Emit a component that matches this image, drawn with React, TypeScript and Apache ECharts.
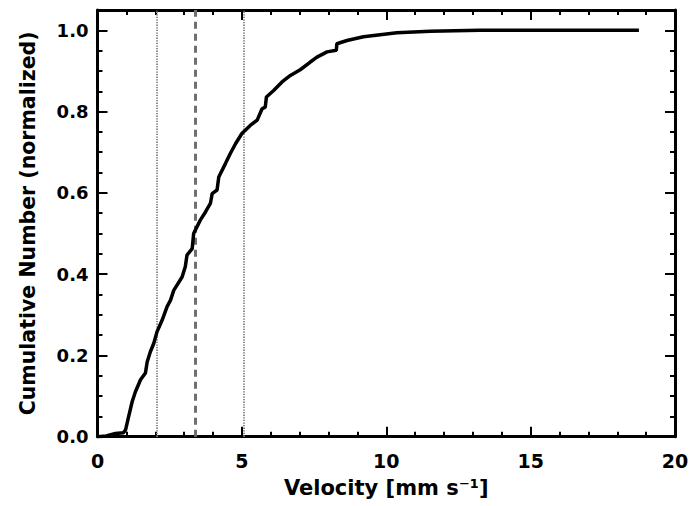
import React, { useEffect, useRef } from "react";
import * as echarts from "echarts";

const velocity = [0, 0.3, 0.62, 0.9, 0.97, 1.08, 1.2, 1.31, 1.49, 1.66, 1.72, 1.83, 1.95, 2.06, 2.24, 2.41, 2.53, 2.64, 2.93, 3.04, 3.1, 3.28, 3.33, 3.56, 3.74, 3.91, 3.97, 4.14, 4.2, 4.43, 4.6, 4.78, 5.0, 5.29, 5.53, 5.7, 5.81, 5.85, 6.1, 6.39, 6.68, 7.02, 7.37, 7.6, 7.95, 8.27, 8.29, 8.64, 9.21, 9.79, 10.37, 11.52, 13.25, 15.0, 18.75];
const cumulative = [0, 0.002, 0.008, 0.01, 0.016, 0.05, 0.086, 0.11, 0.14, 0.157, 0.184, 0.209, 0.23, 0.258, 0.287, 0.32, 0.336, 0.36, 0.393, 0.418, 0.447, 0.463, 0.5, 0.533, 0.553, 0.574, 0.598, 0.607, 0.639, 0.672, 0.697, 0.721, 0.746, 0.766, 0.779, 0.807, 0.811, 0.836, 0.852, 0.873, 0.889, 0.903, 0.922, 0.934, 0.947, 0.951, 0.967, 0.975, 0.984, 0.989, 0.994, 0.998, 1.0, 1.0, 1.0];
const medianLine = [3.39];
const quartileLines = [2.04, 5.08];
const xTicks = [0, 5, 10, 15, 20];
const yTicks = [0.0, 0.2, 0.4, 0.6, 0.8, 1.0];

const FONT = "DejaVu Sans";

export default function App() {
  const ref = useRef<HTMLDivElement>(null);
  useEffect(() => {
    if (!ref.current) return;
    const chart = echarts.init(ref.current, undefined, { renderer: "svg" });
    const xMin = xTicks[0];
    const xMax = xTicks[xTicks.length - 1];
    const yMin = yTicks[0];
    const yMax = 1.05;
    const majorTickStyle = { show: true, inside: true, length: 10, lineStyle: { color: "#000", width: 2 } };
    const minorTickStyle = { show: true, length: 5, lineStyle: { color: "#000", width: 2 } };
    const baseX = {
      type: "value" as const,
      min: xMin,
      max: xMax,
      interval: 5,
      splitLine: { show: false },
      axisLine: { show: true, onZero: false, lineStyle: { color: "#000", width: 3 } },
      axisTick: majorTickStyle,
      minorTick: { ...minorTickStyle, splitNumber: 5 },
    };
    const yLabelAxis = {
      type: "value" as const,
      min: yMin,
      max: yMax,
      interval: 0.2,
      splitLine: { show: false },
      axisLine: { show: true, onZero: false, lineStyle: { color: "#000", width: 3 } },
      axisTick: majorTickStyle,
    };
    const yMinorAxis = {
      type: "value" as const,
      min: yMin,
      max: yMax,
      interval: 0.05,
      splitLine: { show: false },
      axisLine: { show: false, onZero: false },
      axisLabel: { show: false },
      axisTick: { show: true, inside: true, length: 5, lineStyle: { color: "#000", width: 2 } },
    };
    chart.setOption({
      animation: false,
      backgroundColor: "#fff",
      grid: { left: 97.5, right: 24, top: 10, bottom: 69.3, containLabel: false },
      xAxis: [
        {
          ...baseX,
          position: "bottom",
          name: "Velocity [mm s⁻¹]",
          nameLocation: "middle",
          nameGap: 41,
          nameTextStyle: { fontFamily: FONT, fontSize: 21, fontWeight: "bold", color: "#000" },
          axisLabel: {
            show: true,
            margin: 15,
            fontFamily: FONT,
            fontSize: 19,
            fontWeight: "bold",
            color: "#000",
            formatter: (v: number) => (xTicks.includes(v) ? String(v) : ""),
          },
        },
        { ...baseX, position: "top", axisLabel: { show: false } },
      ],
      yAxis: [
        {
          ...yLabelAxis,
          position: "left",
          name: "Cumulative Number (normalized)",
          nameLocation: "middle",
          nameGap: 59,
          nameTextStyle: { fontFamily: FONT, fontSize: 20.5, fontWeight: "bold", color: "#000" },
          axisLabel: {
            show: true,
            margin: 9,
            showMaxLabel: false,
            fontFamily: FONT,
            fontSize: 18,
            fontWeight: "bold",
            color: "#000",
            formatter: (v: number) => (yTicks.some((t) => Math.abs(t - v) < 1e-9) ? v.toFixed(1) : ""),
          },
        },
        { ...yLabelAxis, position: "right", axisLabel: { show: false } },
        { ...yMinorAxis, position: "left" },
        { ...yMinorAxis, position: "right" },
      ],
      series: [
        {
          type: "line",
          xAxisIndex: 0,
          yAxisIndex: 0,
          data: velocity.map((v, i) => [v, cumulative[i]]),
          showSymbol: false,
          symbol: "none",
          lineStyle: { color: "#000", width: 3.5 },
          z: 5,
          markLine: {
            silent: true,
            symbol: "none",
            label: { show: false },
            data: [
              ...quartileLines.map((v) => ({ xAxis: v, lineStyle: { color: "#8c8c8c", width: 2, type: [1.3, 1.3] } })),
              ...medianLine.map((v) => ({ xAxis: v, lineStyle: { color: "#707070", width: 3, type: [7, 5] } })),
            ],
          },
        },
      ],
    });
    return () => chart.dispose();
  }, []);
  return <div ref={ref} style={{ position: "absolute", left: 0, top: 0, width: 699, height: 506 }} />;
}
